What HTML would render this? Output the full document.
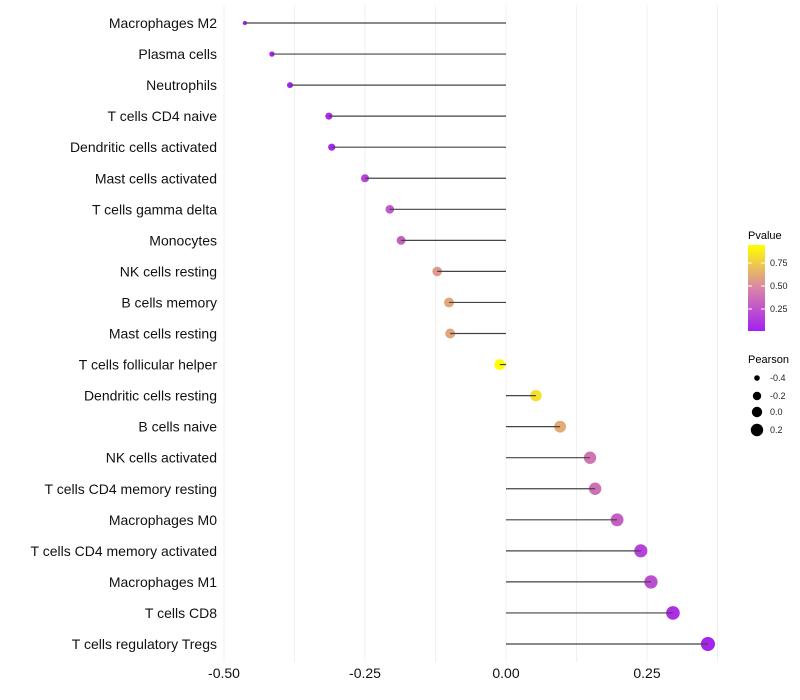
<!DOCTYPE html>
<html><head><meta charset="utf-8"><style>
html,body{margin:0;padding:0;background:#fff;}
svg{display:block;font-family:"Liberation Sans",sans-serif;}
</style></head><body>
<svg id="chart" width="800" height="700" viewBox="0 0 800 700">
<defs><linearGradient id="pg" x1="0" y1="1" x2="0" y2="0">
<stop offset="0" stop-color="#a41ff2"/><stop offset="0.5" stop-color="#d985a8"/><stop offset="1" stop-color="#ffff00"/>
</linearGradient></defs>
<g id="grid"></g>
<g id="marks"></g>
<g id="ylabels"></g>
<g id="xlabels"></g>
<g>
<text x="748" y="239" font-size="11" fill="#000">Pvalue</text>
<rect x="748" y="245" width="17" height="86" fill="url(#pg)"/>
<line x1="748" x2="752" y1="263" y2="263" stroke="#fff"/><line x1="761" x2="765" y1="263" y2="263" stroke="#fff"/>
<line x1="748" x2="752" y1="286" y2="286" stroke="#fff"/><line x1="761" x2="765" y1="286" y2="286" stroke="#fff"/>
<line x1="748" x2="752" y1="309" y2="309" stroke="#fff"/><line x1="761" x2="765" y1="309" y2="309" stroke="#fff"/>
<text x="770" y="266" font-size="9" fill="#222">0.75</text>
<text x="770" y="289" font-size="9" fill="#222">0.50</text>
<text x="770" y="312" font-size="9" fill="#222">0.25</text>
</g>
<g>
<text x="748" y="363" font-size="11" fill="#000">Pearson</text>
<circle cx="757" cy="378" r="2.8" fill="#000"/><text x="770" y="381" font-size="9" fill="#222">-0.4</text>
<circle cx="757" cy="396" r="4.2" fill="#000"/><text x="770" y="399" font-size="9" fill="#222">-0.2</text>
<circle cx="757" cy="412" r="5.2" fill="#000"/><text x="770" y="415" font-size="9" fill="#222">0.0</text>
<circle cx="757" cy="430" r="6.2" fill="#000"/><text x="770" y="433" font-size="9" fill="#222">0.2</text>
</g>
</svg>
<script>
const categories=["Macrophages M2","Plasma cells","Neutrophils","T cells CD4 naive","Dendritic cells activated","Mast cells activated","T cells gamma delta","Monocytes","NK cells resting","B cells memory","Mast cells resting","T cells follicular helper","Dendritic cells resting","B cells naive","NK cells activated","T cells CD4 memory resting","Macrophages M0","T cells CD4 memory activated","Macrophages M1","T cells CD8","T cells regulatory  Tregs"];
const pearson=[-0.463,-0.415,-0.383,-0.314,-0.309,-0.25,-0.206,-0.186,-0.122,-0.101,-0.099,-0.011,0.053,0.096,0.149,0.158,0.197,0.239,0.257,0.296,0.358];
const pvalue=[0.02,0.03,0.04,0.06,0.06,0.18,0.27,0.3,0.55,0.6,0.6,0.94,0.82,0.62,0.4,0.38,0.3,0.17,0.22,0.08,0.03];
const xTicks=[-0.5,-0.25,0,0.25];
const xTickLabels=["-0.50","-0.25","0.00","0.25"];
const NS="http://www.w3.org/2000/svg";
function xs(v){return 506+v*564;}
function ys(i){return 23+i*31.05;}
function lerp(a,b,t){return a.map((x,k)=>Math.round(x+(b[k]-x)*t));}
function col(p){const t=Math.min(1,Math.max(0,(p-0.01)/0.93));const c0=[164,31,242],c1=[217,133,168],c2=[255,255,0];
const c=t<0.5?lerp(c0,c1,t*2):lerp(c1,c2,(t-0.5)*2);return `rgb(${c[0]},${c[1]},${c[2]})`;}
function mk(tag,at,parent){const e=document.createElementNS(NS,tag);for(const k in at)e.setAttribute(k,at[k]);parent.appendChild(e);return e;}
const grid=document.getElementById('grid'),marks=document.getElementById('marks'),yl=document.getElementById('ylabels'),xl=document.getElementById('xlabels');
[-0.5,-0.375,-0.25,-0.125,0,0.125,0.25,0.375].forEach(v=>{const g=mk('line',{x1:xs(v),x2:xs(v),y1:5,y2:662,stroke:'#f0f0f0','stroke-width':1},grid);

});
categories.forEach((c,i)=>{const y=ys(i),v=pearson[i];
const r=Math.sqrt(Math.max(0.5,30+55*v));
const p=mk('circle',{cx:xs(v),cy:y,r:r,fill:col(pvalue[i])},marks);


const s=mk('line',{x1:xs(0),x2:xs(v),y1:y,y2:y,stroke:'#444','stroke-width':1.2},marks);


const t=mk('text',{x:217,y:y+5,'text-anchor':'end','font-size':14,fill:'#111'},yl);t.textContent=c;

});
xTicks.forEach((v,i)=>{const t=mk('text',{x:xs(v),y:678,'text-anchor':'middle','font-size':14,fill:'#111'},xl);t.textContent=xTickLabels[i];

});
</script>
</body></html>
